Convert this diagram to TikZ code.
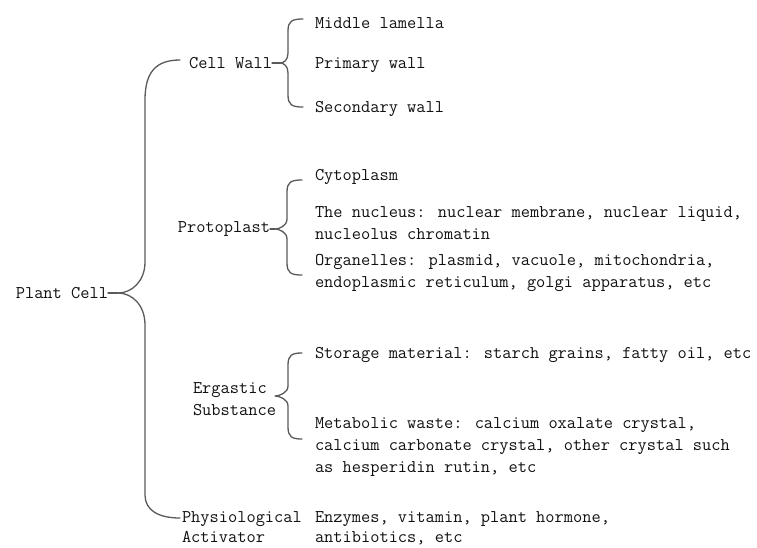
\documentclass[tikz,border=0pt]{standalone}
\usepackage{fontspec}
\definecolor{txt}{HTML}{111111}
\definecolor{ln}{HTML}{5A5A5A}
\newcommand{\mlines}[1]{\begin{tabular}[t]{@{}l@{}}#1\end{tabular}}
\newcommand\cbrace[6]{%
  \draw[brc] (#1,#5) .. controls (#2+4,#5) and (#2,#5+2) .. (#2,#5+12)
    -- (#2,#4-10) .. controls (#2,#4-3) and (#3+4,#4) .. (#3,#4)
    .. controls (#3+4,#4) and (#2,#4+3) .. (#2,#4+10)
    -- (#2,#6-12) .. controls (#2,#6-2) and (#2+4,#6) .. (#1,#6);}
\begin{document}
\begin{tikzpicture}[x=1pt,y=-1pt,
  every node/.style={inner sep=0pt, outer sep=0pt, text=txt,
     font=\ttfamily\fontsize{17.9}{22}\selectfont},
  lbl/.style={anchor=base west},
  par/.style={anchor=east},
  brc/.style={draw=ln, line width=1.3pt, line cap=round, line join=round}]
\useasboundingbox[fill=white] (0,0) rectangle (757,547);

% parents
\node[par] (pc) at (108,293) {Plant Cell};
\node[par] (cw) at (272,63) {Cell Wall};
\node[par] (pp) at (270,229) {Protoplast};
\node[lbl] (es) at (193,393) {\mlines{Ergastic\\Substance}};
\node[lbl] (pa) at (182,522) {\mlines{Physiological\\[-2pt]Activator}};

% children
\node[lbl] (ml) at (315,28) {Middle lamella};
\node[lbl] (pw) at (315,68) {Primary wall};
\node[lbl] (sw) at (315,112) {Secondary wall};
\node[lbl] (cy) at (315,180) {Cytoplasm};
\node[lbl] (nu) at (315,217) {\mlines{The nucleus: nuclear membrane, nuclear liquid,\\nucleolus chromatin}};
\node[lbl] (og) at (315,265) {\mlines{Organelles: plasmid, vacuole, mitochondria,\\endoplasmic reticulum, golgi apparatus, etc}};
\node[lbl] (sm) at (315,358) {Storage material: starch grains, fatty oil, etc};
\node[lbl] (mw) at (315,428) {\mlines{Metabolic waste: calcium oxalate crystal,\\calcium carbonate crystal, other crystal such\\as hesperidin rutin, etc}};
\node[lbl] (en) at (315,522) {\mlines{Enzymes, vitamin, plant hormone,\\[-2pt]antibiotics, etc}};

% big brace
\draw[brc] (180,60) .. controls (156,60) and (145,72) .. (145,100)
  -- (145,262) .. controls (145,281) and (132,293) .. (118,293)
  .. controls (132,293) and (145,305) .. (145,325)
  -- (145,495) .. controls (145,510) and (158,518) .. (180,518);
\draw[brc] (pc.east) -- (118,293);

% small braces
\cbrace{303}{288}{280}{63}{19}{107}
\draw[brc] (cw.east) -- (280,63);
\cbrace{302}{287}{275}{229}{180}{275}
\draw[brc] (pp.east) -- (275,229);
\cbrace{302}{288}{275}{396}{353}{439}
\end{tikzpicture}
\end{document}
